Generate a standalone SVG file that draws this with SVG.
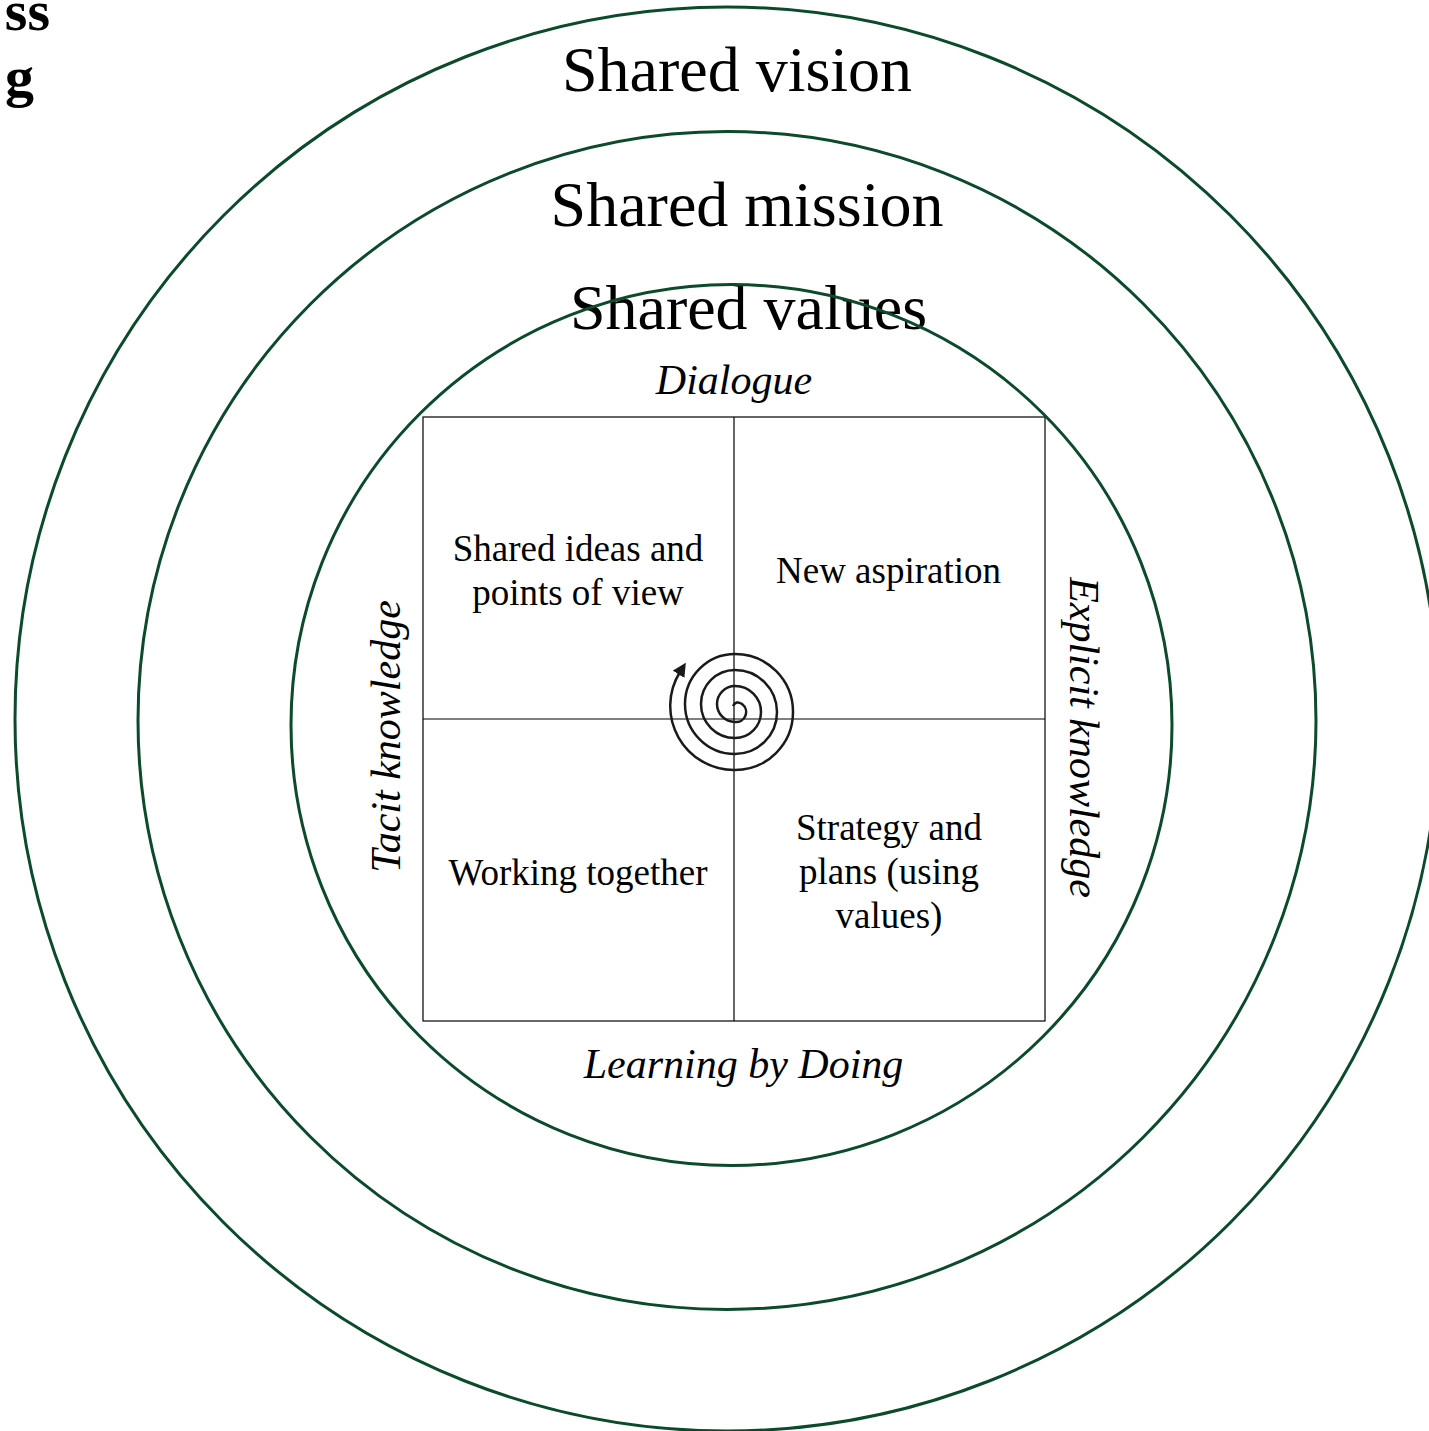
<svg xmlns="http://www.w3.org/2000/svg" width="1429" height="1431" viewBox="0 0 1429 1431">
<style>
.ring{fill:none;stroke:#0b4a2b;stroke-width:3}
.t{font-family:"Liberation Serif","Times New Roman",serif;fill:#000}
.big{font-size:64px;text-anchor:middle}
.q{font-size:37px;text-anchor:middle}
.it{font-size:42px;font-style:italic;text-anchor:middle}
.hd{font-size:58px;font-weight:bold;text-anchor:end}
.grid{fill:none;stroke:#000;stroke-width:1.2}
.sp{fill:none;stroke:#1a1a1a;stroke-width:2.5}
</style>
<defs>
<marker id="ah" viewBox="0 0 10 10" refX="2" refY="5" markerWidth="5.5" markerHeight="5.5" orient="auto" markerUnits="strokeWidth">
<path d="M0,0 L10,5 L0,10 z" fill="#1a1a1a"/>
</marker>
</defs>
<rect width="1429" height="1431" fill="#fff"/>
<g id="heading">
<text class="t hd" x="50" y="30">ss</text>
<text class="t hd" x="34" y="96">g</text>
</g>
<g id="quadrant-grid">
<rect class="grid" x="423" y="417" width="622" height="604"/>
<line class="grid" x1="734" y1="417" x2="734" y2="1021"/>
<line class="grid" x1="423" y1="719" x2="1045" y2="719"/>
</g>
<g id="ring-vision">
<circle class="ring" cx="727" cy="719" r="712"/>
<text class="t big" x="737" y="91">Shared vision</text>
</g>
<g id="ring-mission">
<circle class="ring" cx="727" cy="720.5" r="589"/>
<text class="t big" x="747" y="226">Shared mission</text>
</g>
<g id="ring-values">
<text class="t big" x="748.5" y="329">Shared values</text>
<circle class="ring" cx="731.5" cy="725" r="440.5"/>
</g>
<g id="label-dialogue"><text class="t it" x="734" y="394">Dialogue</text></g>
<g id="label-learning"><text class="t it" x="743.5" y="1078">Learning by Doing</text></g>
<g id="label-tacit"><text class="t it" transform="translate(400,736.5) rotate(-90)">Tacit knowledge</text></g>
<g id="label-explicit"><text class="t it" transform="translate(1070,737.5) rotate(90)">Explicit knowledge</text></g>
<g id="q-shared-ideas">
<text class="t q" x="578" y="561">Shared ideas and</text>
<text class="t q" x="578" y="605">points of view</text>
</g>
<g id="q-new-aspiration">
<text class="t q" x="888.5" y="583">New aspiration</text>
</g>
<g id="q-working-together">
<text class="t q" x="578" y="885">Working together</text>
</g>
<g id="q-strategy">
<text class="t q" x="889" y="840">Strategy and</text>
<text class="t q" x="889" y="884">plans (using</text>
<text class="t q" x="889" y="928">values)</text>
</g>
<g id="connectors">
<path class="sp" marker-end="url(#ah)" d="M733 706 Q736 700 742 704 A10 10 0 0 1 735 722 A18 18 0 0 1 735 686 A26 26 0 0 1 735 738 A34 34 0 0 1 735 670 A42 42 0 0 1 735 754 A50 50 0 0 1 735 654 A58 58 0 0 1 735 770 A64 64 0 0 1 680 672"/>
</g>
</svg>
